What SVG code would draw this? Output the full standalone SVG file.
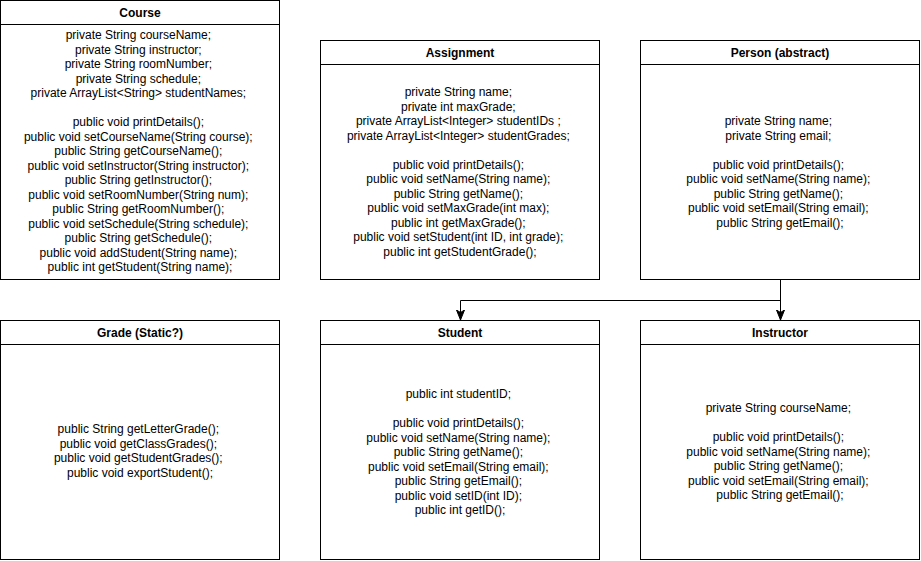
<svg xmlns="http://www.w3.org/2000/svg" width="921" height="561" viewBox="0 0 921 561">
<style>
.box{fill:#fff;stroke:#000;stroke-width:1}
.hd{font-family:"Liberation Sans",Arial,sans-serif;font-size:12px;font-weight:bold;text-anchor:middle;fill:#000}
.tx{font-family:"Liberation Sans",Arial,sans-serif;font-size:12px;text-anchor:middle;fill:#000}
.ln{fill:none;stroke:#000;stroke-width:1}
</style>
<defs>
<marker id="arr" viewBox="0 0 10 10" refX="10" refY="5" markerWidth="10" markerHeight="10" markerUnits="userSpaceOnUse" orient="auto">
<path d="M0,1 L10,5 L0,9 L2.5,5 Z" fill="#000" stroke="#000" stroke-width="1"/>
</marker>
</defs>
<rect width="921" height="561" fill="#fff"/>
<g id="course">
<rect class="box" x="0.5" y="0.5" width="279" height="279"/>
<line class="ln" x1="0.5" y1="24.5" x2="279.5" y2="24.5"/>
<text class="hd" x="140" y="17">Course</text>
<text class="tx">
<tspan x="140" y="39">private String courseName;</tspan>
<tspan x="140" y="53.5">private String instructor;</tspan>
<tspan x="140" y="68">private String roomNumber;</tspan>
<tspan x="140" y="82.5">private String schedule;</tspan>
<tspan x="140" y="97">private ArrayList&lt;String&gt; studentNames;</tspan>
<tspan x="140" y="126">public void printDetails();</tspan>
<tspan x="140" y="140.5">public void setCourseName(String course);</tspan>
<tspan x="140" y="155">public String getCourseName();</tspan>
<tspan x="140" y="169.5">public void setInstructor(String instructor);</tspan>
<tspan x="140" y="184">public String getInstructor();</tspan>
<tspan x="140" y="198.5">public void setRoomNumber(String num);</tspan>
<tspan x="140" y="213">public String getRoomNumber();</tspan>
<tspan x="140" y="227.5">public void setSchedule(String schedule);</tspan>
<tspan x="140" y="242">public String getSchedule();</tspan>
<tspan x="140" y="256.5">public void addStudent(String name);</tspan>
<tspan x="140" y="271">public int getStudent(String name);</tspan>
</text>
</g>
<g id="assignment">
<rect class="box" x="320.5" y="40.5" width="279" height="239"/>
<line class="ln" x1="320.5" y1="64.5" x2="599.5" y2="64.5"/>
<text class="hd" x="460" y="57">Assignment</text>
<text class="tx">
<tspan x="460" y="96">private String name;</tspan>
<tspan x="460" y="110.5">private int maxGrade;</tspan>
<tspan x="460" y="125">private ArrayList&lt;Integer&gt; studentIDs ;</tspan>
<tspan x="460" y="139.5">private ArrayList&lt;Integer&gt; studentGrades;</tspan>
<tspan x="460" y="168.5">public void printDetails();</tspan>
<tspan x="460" y="183">public void setName(String name);</tspan>
<tspan x="460" y="197.5">public String getName();</tspan>
<tspan x="460" y="212">public void setMaxGrade(int max);</tspan>
<tspan x="460" y="226.5">public int getMaxGrade();</tspan>
<tspan x="460" y="241">public void setStudent(int ID, int grade);</tspan>
<tspan x="460" y="255.5">public int getStudentGrade();</tspan>
</text>
</g>
<g id="person">
<rect class="box" x="640.5" y="40.5" width="279" height="239"/>
<line class="ln" x1="640.5" y1="64.5" x2="919.5" y2="64.5"/>
<text class="hd" x="780" y="57">Person (abstract)</text>
<text class="tx">
<tspan x="780" y="125">private String name;</tspan>
<tspan x="780" y="139.5">private String email;</tspan>
<tspan x="780" y="168.5">public void printDetails();</tspan>
<tspan x="780" y="183">public void setName(String name);</tspan>
<tspan x="780" y="197.5">public String getName();</tspan>
<tspan x="780" y="212">public void setEmail(String email);</tspan>
<tspan x="780" y="226.5">public String getEmail();</tspan>
</text>
</g>
<g id="grade">
<rect class="box" x="0.5" y="320.5" width="279" height="239"/>
<line class="ln" x1="0.5" y1="344.5" x2="279.5" y2="344.5"/>
<text class="hd" x="140" y="337">Grade (Static?)</text>
<text class="tx">
<tspan x="140" y="433">public String getLetterGrade();</tspan>
<tspan x="140" y="447.5">public void getClassGrades();</tspan>
<tspan x="140" y="462">public void getStudentGrades();</tspan>
<tspan x="140" y="476.5">public void exportStudent();</tspan>
</text>
</g>
<g id="student">
<rect class="box" x="320.5" y="320.5" width="279" height="239"/>
<line class="ln" x1="320.5" y1="344.5" x2="599.5" y2="344.5"/>
<text class="hd" x="460" y="337">Student</text>
<text class="tx">
<tspan x="460" y="398">public int studentID;</tspan>
<tspan x="460" y="427">public void printDetails();</tspan>
<tspan x="460" y="441.5">public void setName(String name);</tspan>
<tspan x="460" y="456">public String getName();</tspan>
<tspan x="460" y="470.5">public void setEmail(String email);</tspan>
<tspan x="460" y="485">public String getEmail();</tspan>
<tspan x="460" y="499.5">public void setID(int ID);</tspan>
<tspan x="460" y="514">public int getID();</tspan>
</text>
</g>
<g id="instructor">
<rect class="box" x="640.5" y="320.5" width="279" height="239"/>
<line class="ln" x1="640.5" y1="344.5" x2="919.5" y2="344.5"/>
<text class="hd" x="780" y="337">Instructor</text>
<text class="tx">
<tspan x="780" y="412">private String courseName;</tspan>
<tspan x="780" y="441">public void printDetails();</tspan>
<tspan x="780" y="455.5">public void setName(String name);</tspan>
<tspan x="780" y="470">public String getName();</tspan>
<tspan x="780" y="484.5">public void setEmail(String email);</tspan>
<tspan x="780" y="499">public String getEmail();</tspan>
</text>
</g>
<g id="connectors">
<path class="ln" d="M780.5,280 L780.5,320" marker-end="url(#arr)"/>
<path class="ln" d="M780.5,280 L780.5,300.5 L460.5,300.5 L460.5,320" marker-end="url(#arr)"/>
</g>
</svg>
